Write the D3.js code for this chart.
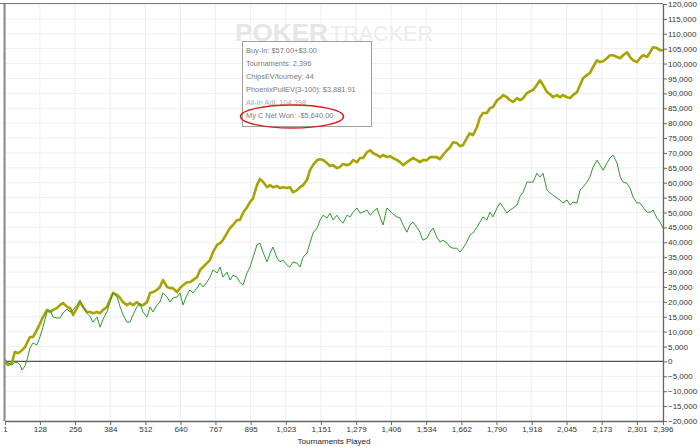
<!DOCTYPE html>
<html><head><meta charset="utf-8">
<script src="https://cdn.jsdelivr.net/npm/d3@7"></script>
<style>html,body{margin:0;padding:0;background:#fff;}svg{display:block;}</style>
</head><body>
<svg id="chart" width="700" height="447"></svg>
<script>
const tournaments = [1,12,26,37,48,56,63,74,81,92,103,117,128,139,154,165,176,190,201,212,227,238,249,263,274,285,299,310,321,336,347,358,372,383,394,409,420,431,445,456,467,481,492,503,518,529,540,554,565,576,591,602,612,627,638,649,663,674,685,700,711,722,736,747,758,773,784,794,809,820,831,845,856,867,882,893,904,918,929,940,955,966,976,991,1002,1013,1027,1038,1049,1064,1075,1086,1100,1111,1122,1137,1148,1159,1173,1184,1195,1209,1220,1231,1246,1257,1268,1282,1293,1304,1319,1330,1341,1355,1366,1377,1391,1402,1413,1428,1439,1450,1464,1475,1486,1500,1511,1522,1537,1548,1559,1573,1584,1595,1610,1621,1632,1646,1657,1668,1682,1693,1704,1719,1730,1741,1755,1766,1777,1792,1803,1814,1828,1839,1850,1865,1876,1887,1901,1912,1923,1937,1948,1959,1974,1985,1996,2010,2021,2032,2047,2058,2068,2083,2094,2105,2119,2130,2141,2156,2167,2178,2192,2203,2214,2229,2240,2251,2265,2276,2287,2301,2312,2323,2338,2349,2360,2374,2385,2396];

const allInAdj = [-100,-1200,-500,3200,2800,3200,3800,4800,6200,8200,8200,10500,12600,14900,17300,16600,17300,17900,18900,19600,18300,17900,15600,17900,19900,18300,16600,16600,16200,16600,16200,17300,18300,20600,23000,22300,21300,19900,18900,19600,18900,19900,18900,18900,19900,23000,23300,24000,25000,27300,25000,24600,24600,23300,24600,25600,26600,26600,27300,28300,30700,31700,33000,34000,36700,39100,39700,40700,43100,44800,45800,47500,47500,49800,51800,53500,54800,59200,61300,60300,58500,59200,58500,58900,58200,58500,58200,58500,56800,57500,58500,59200,60900,64200,65900,67600,67900,67600,66600,65600,65900,64900,65300,66300,65900,66300,67600,66900,68300,68300,70300,70900,69900,69300,68600,69300,68600,68900,68300,67600,66900,65900,66900,67600,68300,67600,66900,67600,67600,68600,68600,68600,67900,69300,70900,71900,73600,73300,72300,72600,75000,76600,76000,78700,82000,83400,83400,85000,85400,87700,88400,89400,88700,87700,87100,88400,87700,88400,90100,90700,91100,92800,94400,92800,90400,89700,88700,89400,88700,89400,88700,88400,89400,90400,92800,95100,96200,96800,98800,101100,100500,100800,101800,102800,102800,102200,101800,102800,103800,102200,101100,100500,101800,102800,102200,103800,105500,105200,104500,104400];

const chipsWon = [800,-500,-1200,-200,-500,-1200,-2900,-1500,500,4500,6200,5500,8200,11500,16600,17300,14900,14600,14600,16200,17600,16600,17300,18900,20600,18300,16200,15200,13200,14900,11500,14200,16600,19900,23000,21600,18300,15600,13200,13200,15600,18300,19600,16600,14900,18300,16600,18900,19900,23000,21600,19900,21300,21600,23000,18900,22300,24000,23000,24600,26300,25000,26600,28300,30700,29700,31700,28300,30000,27300,29000,28300,26600,25600,29700,31700,35000,39100,39700,36700,33400,36400,38400,34700,33400,34000,32400,31700,33400,33000,31700,35000,36400,39700,43100,44800,47500,49100,48100,49800,47500,49100,47500,46400,49100,48500,50100,51500,49800,50100,50800,49100,50100,51500,48500,45800,51500,50500,49500,48500,48100,45800,43400,45800,46800,45100,43400,40700,41400,43400,44800,41700,40100,40700,39700,38400,38000,38000,36700,38000,40100,42400,43100,45100,46800,48500,47500,50100,48500,51500,53200,51800,49800,50800,51500,52500,55500,56800,60200,60200,60200,63200,61900,63200,57500,56500,55800,54800,54200,53200,54200,52500,53500,53200,57500,58500,60200,61900,65200,67600,65900,64200,66600,68300,69300,66600,61900,60200,59800,58200,55200,53200,53200,51800,50100,50100,50800,48100,46800,44800];

const xTicks = [1,128,256,384,512,640,767,895,1023,1151,1279,1406,1534,1662,1790,1918,2045,2173,2301,2396];
const yTicks = [-20000,-15000,-10000,-5000,0,5000,10000,15000,20000,25000,30000,35000,40000,45000,50000,55000,60000,65000,70000,75000,80000,85000,90000,95000,100000,105000,110000,115000,120000];
const legendLines = ["Buy-In: $57.00+$3.00","Tournaments: 2,396","ChipsEV/tourney: 44","PhoenixPullEV(3-100): $3,881.91","All-In Adj: 104,398","My C Net Won: -$5,640.00"];
const xTitle = "Tournaments Played";

const svg = d3.select("#chart");
const L = 5, R = 663, T = 4, B = 421;
const x = d3.scaleLinear().domain([1, 2396]).range([L, R]);
const y = d3.scaleLinear().domain([-20000, 120000]).range([B, T]);
const font = "'Liberation Sans', Arial, sans-serif";

// grid
svg.append("g").selectAll("line").data(xTicks).join("line")
  .attr("x1", d => x(d)).attr("x2", d => x(d)).attr("y1", T).attr("y2", B)
  .attr("stroke", "#efefef").attr("stroke-width", 1);
svg.append("g").selectAll("line").data(yTicks).join("line")
  .attr("x1", L).attr("x2", R).attr("y1", d => y(d)).attr("y2", d => y(d))
  .attr("stroke", "#efefef").attr("stroke-width", 1);

// watermark
svg.append("text").attr("x", 235).attr("y", 40.5).text("POKER")
  .attr("font-family", font).attr("font-weight", "bold").attr("font-size", 23)
  .attr("textLength", 93).attr("lengthAdjust", "spacingAndGlyphs").attr("fill", "#e6e6e6");
svg.append("text").attr("x", 330).attr("y", 40.5).text("TRACKER")
  .attr("font-family", font).attr("font-size", 22)
  .attr("textLength", 103).attr("lengthAdjust", "spacingAndGlyphs").attr("fill", "#ececec");

// top border
svg.append("line").attr("x1", 0).attr("x2", R).attr("y1", 3.5).attr("y2", 3.5)
  .attr("stroke", "#777").attr("stroke-width", 1.2);

// zero line
svg.append("line").attr("x1", L).attr("x2", R).attr("y1", y(0)).attr("y2", y(0))
  .attr("stroke", "#555").attr("stroke-width", 1.3);

// lines
const pts = (vals) => tournaments.map((t, i) => [t, vals[i]]);
const line = d3.line().x(d => x(d[0])).y(d => y(d[1]));
svg.append("path").datum(pts(allInAdj)).attr("d", line)
  .attr("fill", "none").attr("stroke", "#a8a300").attr("stroke-width", 2.6).attr("stroke-linejoin", "round");
svg.append("path").datum(pts(chipsWon)).attr("d", line)
  .attr("fill", "none").attr("stroke", "#2e9a2e").attr("stroke-width", 1).attr("stroke-linejoin", "round");

// axes
const xAxis = d3.axisBottom(x).tickValues(xTicks).tickSize(4).tickSizeOuter(0).tickFormat(d3.format(","));
const gx = svg.append("g").attr("transform", `translate(0,${B})`).call(xAxis);
gx.select(".domain").attr("stroke", "#666").attr("stroke-width", 1.3);
gx.selectAll(".tick line").attr("stroke", "#666");
gx.selectAll("text").attr("font-family", font).attr("font-size", 8).attr("fill", "#333").attr("dy", "0.55em");

const yAxis = d3.axisRight(y).tickValues(yTicks).tickSize(4).tickSizeOuter(0).tickFormat(d3.format(","));
const gy = svg.append("g").attr("transform", `translate(${R},0)`).call(yAxis);
gy.select(".domain").attr("stroke", "#666").attr("stroke-width", 1.3);
gy.selectAll(".tick line").attr("stroke", "#666");
gy.selectAll("text").attr("font-family", font).attr("font-size", 8).attr("fill", "#333").attr("x", 5);

// left axis line
svg.append("line").attr("x1", 4.5).attr("x2", 4.5).attr("y1", T).attr("y2", B)
  .attr("stroke", "#888").attr("stroke-width", 2);

svg.append("text").attr("x", (L + R) / 2).attr("y", 444).attr("text-anchor", "middle")
  .attr("font-family", font).attr("font-size", 8).attr("fill", "#222").text(xTitle);

// info box
const box = svg.append("g");
box.append("rect").attr("x", 242.5).attr("y", 41.5).attr("width", 129).attr("height", 85)
  .attr("fill", "#fff").attr("stroke", "#a0a0a0").attr("stroke-width", 1);
box.selectAll("text").data(legendLines).join("text")
  .attr("x", 246).attr("y", (d, i) => 52.8 + i * 13.1)
  .attr("font-family", font).attr("font-size", 7.4)
  .attr("fill", (d, i) => i === 4 ? "#aaa" : "#7a7a7a").text(d => d);
box.append("ellipse").attr("cx", 292).attr("cy", 116.5).attr("rx", 51.5).attr("ry", 11.5)
  .attr("fill", "none").attr("stroke", "#d42020").attr("stroke-width", 1.5);
</script>
</body></html>
